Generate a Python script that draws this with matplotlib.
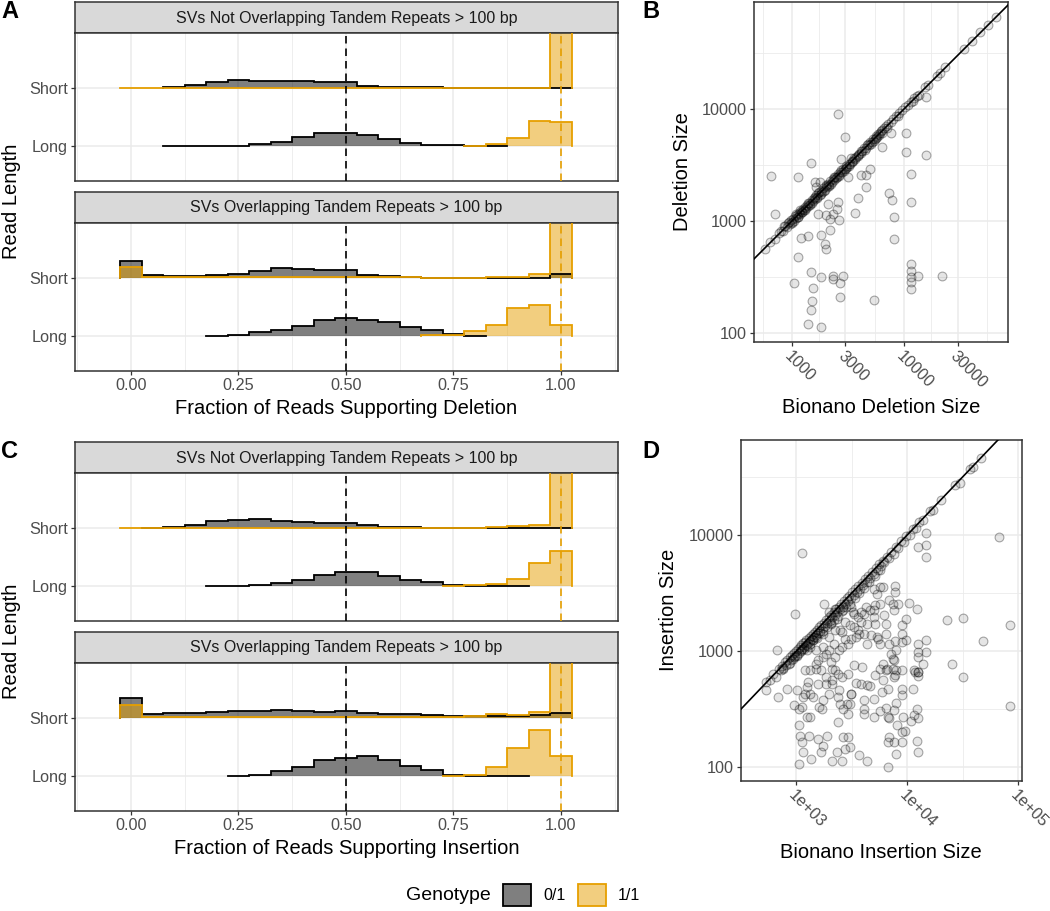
import numpy as np
import matplotlib
matplotlib.use('Agg')
import matplotlib.pyplot as plt
from matplotlib.patches import Patch
from matplotlib.ticker import NullFormatter

plt.rcParams['font.family'] = ['Liberation Sans', 'DejaVu Sans']

nan = np.nan

# histogram bins (fraction of reads), width 0.05
bin_mid = np.array([0.00, 0.05, 0.10, 0.15, 0.20, 0.25, 0.30, 0.35, 0.40, 0.45, 0.50,
                    0.55, 0.60, 0.65, 0.70, 0.75, 0.80, 0.85, 0.90, 0.95, 1.00])
rows = ['Long', 'Short']
facets = ['SVs Not Overlapping Tandem Repeats > 100 bp',
          'SVs Overlapping Tandem Repeats > 100 bp']
genotypes = ['0/1', '1/1']
geno_colors = ['#000000', '#E69F00']
ROW = 175.0  # ridge height that equals the distance between two rows

# ridge heights, deletions (panel A)
del_nontr_short_het = [nan, nan, 3, 10, 20, 25, 23, 21, 23, 20, 18, 8, 5, 3, 3, 2, 2, 2, 1, 0, 0]
del_nontr_short_hom = [0, 0, 0, 0, 0, 0, 1, 1, 1, 1, 1, 1, 1, 1, 1, 1, 2, 2, 2, 2, 420]
del_nontr_long_het = [nan, nan, 0, 0, 1, 1, 5, 13, 28, 38, 38, 33, 20, 10, 4, 2, 1, 1, nan, nan, nan]
del_nontr_long_hom = [nan] * 16 + [1, 6, 23, 76, 73]
del_tr_short_het = [53, 11, 8, 8, 10, 13, 21, 30, 28, 26, 25, 11, 6, 3, 2, 2, 1, 2, 1, 2, 12]
del_tr_short_hom = [35, 5, 3, 3, 3, 3, 3, 3, 3, 3, 3, 3, 3, 3, 2, 2, 2, 4, 3, 12, 420]
del_tr_long_het = [nan] * 4 + [0, 5, 12, 20, 30, 50, 56, 50, 42, 27, 20, 7, 0, nan, nan, nan, nan]
del_tr_long_hom = [nan] * 14 + [5, 5, 15, 35, 85, 95, 35]

# ridge heights, insertions (panel C)
ins_nontr_short_het = [nan, 2, 5, 10, 22, 26, 28, 23, 20, 16, 17, 10, 5, 3, 2, 1, 1, 0, 0, 1, 1]
ins_nontr_short_hom = [0, 1, 1, 1, 1, 1, 1, 1, 1, 1, 1, 1, 1, 1, 1, 2, 2, 3, 6, 10, 420]
ins_nontr_long_het = [nan] * 4 + [0, 1, 3, 8, 18, 32, 42, 42, 30, 17, 13, 3, 1, 1, 1, nan, nan]
ins_nontr_long_hom = [nan] * 15 + [0, 3, 7, 20, 70, 105]
ins_tr_short_het = [62, 14, 15, 17, 20, 22, 22, 26, 22, 19, 22, 17, 12, 12, 9, 7, 7, 7, 7, 10, 16]
ins_tr_short_hom = [40, 5, 4, 4, 4, 4, 4, 4, 4, 4, 4, 4, 4, 4, 4, 5, 6, 12, 10, 20, 420]
ins_tr_long_het = [nan] * 5 + [0, 3, 15, 28, 48, 55, 60, 50, 32, 20, 3, 1, 1, 1, nan, nan]
ins_tr_long_hom = [nan] * 15 + [2, 5, 28, 85, 139, 60]

# panel B: Bionano deletion size vs called deletion size
del_bionano = [
    646, 700, 1130, 1040, 1130, 1210, 1390, 1490, 1490, 1510,
    1540, 1490, 1390, 1830, 1830, 1830, 1985, 2030, 1590, 1650,
    1770, 2100, 2170, 1710, 2030, 2170, 2320, 2630, 2580, 2520,
    2670, 2670, 2320, 2320, 2850, 2580, 2950, 2710, 3630, 3880,
    4160, 4610, 4610, 5000, 5360, 6410, 7350, 7770, 8100, 8100,
    7710, 10500, 10500, 11480, 11480, 15600, 15600, 11600, 11600, 11480,
    11480, 11480, 13240, 21980, 3160, 3390,
    570, 640, 700, 760, 800, 830, 870, 900, 920, 950,
    980, 1000, 1020, 1040, 1060, 1080, 1100, 1120, 1150, 1170,
    1200, 1220, 1250, 1280, 1300, 1330, 1360, 1400, 1430, 1460,
    1500, 1530, 1560, 1600, 1640, 1680, 1720, 1760, 1800, 1850,
    1900, 1950, 2000, 2050, 2100, 2150, 2200, 2260, 2320, 2380,
    2440, 2500, 2560, 2630, 2700, 2780, 2860, 2940, 3020, 3100,
    3200, 3300, 3400, 3500, 3600, 3720, 3850, 3980, 4100, 4250,
    4400, 4550, 4700, 4850, 5000, 5150, 5300, 5450, 5600, 5750,
    5900, 6050, 6200, 6400, 6600, 6900, 7200, 7600, 8000, 8500,
    9000, 9600, 10200, 10800, 11500, 12300, 13000, 13600, 15500, 16500,
    19500, 21000, 23000, 34000, 40000, 48000, 56000, 66000,
    850, 940, 1010, 1090, 1130, 1190, 1240, 1310, 1380, 1450,
    1520, 1590, 1660, 1740, 1830, 1920, 2020, 2120, 2230, 2350,
    2470, 2600, 2740, 2890, 3050, 3250, 3450, 3650, 3900, 4150,
    4450, 4750, 5050, 5350, 5650, 5950, 6300, 7000, 8800, 12000,
]
del_called = [
    2510, 1160, 2480, 280, 476, 710, 730, 3260, 349, 192,
    253, 161, 119, 112, 316, 744, 627, 565, 2235, 2014,
    2235, 1430, 825, 1163, 1124, 1049, 1163, 1014, 1480, 1290,
    211, 279, 324, 305, 324, 9020, 5650, 3540, 1188, 1618,
    2564, 2564, 1991, 2884, 198, 4600, 1758, 1531, 1079, 695,
    6053, 6138, 4121, 2636, 1489, 3846, 12700, 415, 357, 315,
    284, 246, 324, 324, 2478, 3613,
    560, 650, 690, 780, 820, 810, 900, 880, 950, 930,
    1010, 980, 1050, 1000, 1100, 1060, 1130, 1090, 1180, 1150,
    1230, 1190, 1280, 1250, 1340, 1300, 1390, 1370, 1460, 1420,
    1540, 1500, 1600, 1560, 1690, 1640, 1760, 1720, 1850, 1800,
    1950, 1900, 2040, 2000, 2150, 2100, 2250, 2210, 2370, 2320,
    2490, 2450, 2610, 2580, 2750, 2720, 2900, 2880, 3080, 3040,
    3250, 3220, 3450, 3420, 3650, 3700, 3900, 3950, 4180, 4200,
    4480, 4500, 4800, 4750, 5100, 5050, 5400, 5380, 5700, 5650,
    6000, 6050, 6300, 6450, 6700, 7000, 7300, 7700, 8100, 8600,
    9100, 9700, 10300, 10800, 11600, 12400, 13100, 13300, 15700, 16300,
    19800, 20800, 23500, 34500, 40500, 48500, 56500, 66500,
    900, 980, 960, 1150, 1080, 1250, 1200, 1250, 1450, 1400,
    1450, 1650, 1600, 1800, 1750, 1850, 2100, 2050, 2150, 2450,
    2400, 2500, 2850, 2800, 2950, 3100, 3350, 3550, 3800, 4000,
    4300, 4900, 4900, 5200, 5500, 5800, 6100, 6800, 8600, 11700,
]

# panel D: Bionano insertion size vs called insertion size
ins_bionano = [
    1120, 968, 673, 681, 530, 820, 949, 1047, 1120, 1047,
    1069, 1120, 1047, 1157, 1236, 1321, 1303, 1365, 1560, 1664,
    1722, 1877, 2070, 2317, 2559, 2612, 2735, 2924, 3020, 3683,
    4345, 6683, 6760, 6683, 7620, 7880, 8880, 12110, 12530, 2365,
    2477, 2645, 2884, 3020, 3120, 2924, 4064, 4100, 4955, 4064,
    4955, 5660, 6380, 6683, 6760, 7620, 7880, 7980, 9000, 9490,
    9120, 11560, 12360, 10810, 12110, 1157, 1196, 1410, 1611, 1698,
    1722, 1337, 1560, 1837, 1963, 2395, 2070, 2365, 3080, 3443,
    3802, 4290, 4642, 5060, 5660, 5970, 5880, 6683, 7380, 7880,
    7800, 7620, 8880, 9000, 8880, 11560, 11300, 12360, 12530, 13840,
    25060, 32060, 84100, 67600, 84100, 47600, 32060, 23000, 14790, 14790,
    14790, 12530, 12110, 10250, 9620, 9000, 9000, 9750, 9000, 7800,
    7880, 7380, 7620, 6546, 6480, 6050, 6110, 6480, 7480, 7800,
    7800, 7620, 8150, 6760, 5660, 6050, 4955, 5300, 5660, 5060,
    4955, 4642, 4205, 4064, 3802, 3563, 3563, 3683, 4064, 3802,
    4345, 4955, 5100, 5300, 5480, 5660, 4700, 4345, 6480, 6870,
    7100, 14790, 14790, 12530, 12530, 12530, 12530, 11700, 3443, 3120,
    2924, 2559, 2395, 2243, 2028, 1837, 1722, 1560, 1507, 1507,
    1722, 1963, 2168, 2477, 2580, 2735, 3020, 3334, 3334, 3240,
    2317, 2028, 2243, 1963, 1722, 1507, 1410, 1321, 1236, 1196,
    1321, 1507, 1664, 1837, 2098, 2243, 2559, 2924, 3334, 3937,
    1277, 1013, 1236, 1778, 1963, 2243, 2630, 3120, 2735, 2098, 2365,
    530, 580, 620, 650, 690, 720, 740, 760, 790, 810,
    830, 850, 870, 890, 910, 930, 950, 970, 990, 1010,
    1030, 1050, 1070, 1090, 1110, 1130, 1150, 1170, 1190, 1210,
    1230, 1260, 1290, 1320, 1350, 1380, 1410, 1440, 1470, 1500,
    1530, 1560, 1600, 1640, 1680, 1720, 1760, 1800, 1850, 1900,
    1950, 2000, 2050, 2100, 2160, 2220, 2280, 2340, 2400, 2470,
    2540, 2610, 2680, 2760, 2840, 2920, 3000, 3100, 3200, 3300,
    3400, 3500, 3620, 3740, 3860, 4000, 4150, 4300, 4450, 4600,
    4800, 5000, 5200, 5400, 5600, 5800, 6000, 6200, 6500, 6800,
    7100, 7500, 7900, 8300, 8800, 9300, 9800, 10500, 11200, 12000,
    12800, 13800, 16000, 17000, 20000, 27000, 30000, 37000, 39000, 46000,
    760, 880, 960, 1020, 1100, 1180, 1250, 1330, 1420, 1520,
    1620, 1740, 1880, 2030, 2190, 2370, 2570, 2800, 3050, 3350,
    3700, 4100, 4550, 5100, 5700,
]
ins_called = [
    7000, 2070, 1014, 401, 464, 473, 340, 318, 329, 229,
    184, 164, 107, 135, 270, 270, 184, 118, 176, 135,
    151, 184, 113, 135, 114, 181, 144, 181, 149, 126,
    113, 101, 181, 164, 164, 130, 164, 167, 135, 244,
    351, 318, 351, 351, 428, 288, 318, 288, 388, 376,
    270, 304, 325, 270, 266, 308, 356, 229, 201, 206,
    270, 279, 266, 252, 318, 401, 428, 401, 329, 318,
    376, 428, 522, 522, 428, 458, 558, 638, 428, 530,
    522, 506, 497, 617, 705, 558, 443, 473, 705, 681,
    617, 597, 681, 473, 415, 681, 473, 660, 605, 778,
    767, 597, 333, 9620, 1688, 1212, 1923, 1837, 10400, 8150,
    6460, 7780, 2285, 2594, 1901, 1664, 1393, 1236, 1196, 1220,
    1027, 859, 842, 705, 690, 778, 2028, 1722, 2559, 3228,
    3607, 2243, 2523, 2735, 3563, 3563, 3443, 3120, 2559, 2477,
    2243, 2243, 2395, 2098, 2165, 1963, 1507, 1393, 1393, 1778,
    1722, 1963, 1722, 1321, 1280, 1157, 1365, 1157, 1393, 1157,
    949, 1236, 980, 1157, 980, 887, 660, 660, 1321, 1280,
    1157, 1083, 1014, 888, 804, 949, 888, 831, 778, 1014,
    1083, 1014, 1157, 1507, 1458, 1280, 1664, 1611, 2098, 2165,
    1901, 1722, 1507, 1321, 1393, 1321, 1236, 1083, 1014, 681,
    681, 705, 681, 597, 705, 681, 597, 638, 752, 728,
    541, 458, 489, 2559, 2165, 2317, 2243, 2395, 1778, 522, 401,
    540, 560, 640, 600, 700, 680, 750, 700, 800, 760,
    840, 780, 880, 830, 920, 860, 960, 900, 1000, 930,
    1040, 960, 1080, 1010, 1120, 1040, 1160, 1080, 1200, 1120,
    1240, 1160, 1300, 1220, 1340, 1280, 1400, 1320, 1460, 1380,
    1520, 1420, 1600, 1500, 1680, 1580, 1750, 1640, 1850, 1740,
    1950, 1820, 2050, 1950, 2160, 2050, 2280, 2150, 2400, 2280,
    2540, 2400, 2680, 2560, 2840, 2700, 3000, 2880, 3200, 3050,
    3400, 3250, 3620, 3450, 3860, 3700, 4150, 3950, 4450, 4250,
    4800, 4600, 5200, 5000, 5600, 5400, 6000, 5800, 6500, 6300,
    7100, 6900, 7900, 7700, 8800, 8600, 9800, 9900, 11200, 11500,
    12800, 13300, 16000, 16200, 20000, 27000, 28000, 37000, 38000, 46000,
    720, 790, 880, 900, 1000, 1050, 1100, 1150, 1250, 1300,
    1420, 1480, 1600, 1750, 1850, 2000, 2200, 2400, 2550, 2850,
    3150, 3500, 3900, 4400, 5000,
]

W, H = 1050, 911
GRID = '#EBEBEB'
EDGE = '#333333'
TICKC = '#4D4D4D'

fig = plt.figure(figsize=(W / 100, H / 100), dpi=100)


def px_axes(l, t, r, b):
    return fig.add_axes([l / W, 1 - b / H, (r - l) / W, (b - t) / H])


def frame(ax):
    for s in ax.spines.values():
        s.set_color(EDGE)
        s.set_linewidth(1.1)
    ax.tick_params(which='major', length=3, width=0.9, color=EDGE,
                   labelcolor=TICKC, labelsize=11.7, pad=2)
    ax.tick_params(which='minor', length=0)


def strip(box, label):
    ax = px_axes(*box)
    ax.set_facecolor('#D9D9D9')
    ax.set_xticks([])
    ax.set_yticks([])
    frame(ax)
    ax.text(0.5, 0.47, label, ha='center', va='center', fontsize=11.5,
            color='#1A1A1A', transform=ax.transAxes)


def draw_ridge(ax, base, heights, k):
    h = np.asarray(heights, float)
    ok = np.where(~np.isnan(h))[0]
    i0, i1 = ok[0], ok[-1]
    vals = h[i0:i1 + 1] / ROW
    edges = np.append(bin_mid[i0:i1 + 1] - 0.025, bin_mid[i1] + 0.025)
    ax.stairs(base + vals, edges, baseline=base, fill=True,
              color=geno_colors[k], alpha=0.5, lw=0, zorder=2)
    xs = np.concatenate([[edges[0]], np.repeat(edges, 2)[1:-1], [edges[-1]]])
    ys = np.concatenate([[0], np.repeat(vals, 2), [0]])
    ax.plot(xs, base + ys, color=geno_colors[k], lw=1.3, zorder=3,
            solid_joinstyle='miter')


def ridge_panel(l, t, r, b, title, short_het, short_hom, long_het, long_hom, show_x):
    strip((l, t, r, t + 31), title)
    ax = px_axes(l, t + 31, r, b)
    ax.set_xlim(-0.13, 1.133)
    ax.set_ylim(0.40, 2.96)
    ax.set_xticks([0, 0.25, 0.5, 0.75, 1.0], ['0.00', '0.25', '0.50', '0.75', '1.00'])
    ax.set_xticks([-0.125, 0.125, 0.375, 0.625, 0.875, 1.125], minor=True)
    ax.set_yticks([1, 2], rows)
    ax.grid(which='major', color=GRID, lw=1.1)
    ax.grid(which='minor', axis='x', color=GRID, lw=0.6)
    ax.set_axisbelow(True)
    frame(ax)
    for base, het, hom in [(2, short_het, short_hom), (1, long_het, long_hom)]:
        draw_ridge(ax, base, het, 0)
        draw_ridge(ax, base, hom, 1)
    ax.axvline(0.5, color='black', lw=1.2, ls=(0, (4.5, 3)), zorder=4)
    ax.axvline(1.0, color='#E69F00', lw=1.2, ls=(0, (4.5, 3)), zorder=4)
    if not show_x:
        ax.tick_params(axis='x', which='both', length=0, labelbottom=False)
    return ax


def scatter_panel(l, t, r, b, x, y, xlim, ylim, xt, xtl, xminor):
    ax = px_axes(l, t, r, b)
    ax.set_xscale('log')
    ax.set_yscale('log')
    ax.set_xlim(*xlim)
    ax.set_ylim(*ylim)
    ax.set_xticks(xt, xtl)
    ax.set_xticks(xminor, minor=True)
    ax.set_yticks([100, 1000, 10000], ['100', '1000', '10000'])
    ax.set_yticks([316.2, 3162, 31623], minor=True)
    ax.xaxis.set_minor_formatter(NullFormatter())
    ax.yaxis.set_minor_formatter(NullFormatter())
    ax.grid(which='major', color=GRID, lw=1.1)
    ax.grid(which='minor', color=GRID, lw=0.6)
    ax.set_axisbelow(True)
    frame(ax)
    for lab in ax.get_xticklabels():
        lab.set_rotation(-45)
        lab.set_ha('left')
        lab.set_va('top')
        lab.set_rotation_mode('anchor')
    ax.scatter(x, y, s=40, facecolor=(0, 0, 0, 0.1), edgecolor=(0, 0, 0, 0.33),
               lw=0.8, zorder=2)
    ax.axline((1000, 1000), (10000, 10000), color='black', lw=1.2, zorder=3)
    return ax


# panel A
ridge_panel(75, 2, 618, 180.5, facets[0], del_nontr_short_het, del_nontr_short_hom,
            del_nontr_long_het, del_nontr_long_hom, False)
ridge_panel(75, 191.5, 618, 371, facets[1], del_tr_short_het, del_tr_short_hom,
            del_tr_long_het, del_tr_long_hom, True)
# panel C
ridge_panel(75, 442, 618, 620.5, facets[0], ins_nontr_short_het, ins_nontr_short_hom,
            ins_nontr_long_het, ins_nontr_long_hom, False)
ridge_panel(75, 631.5, 618, 811, facets[1], ins_tr_short_het, ins_tr_short_hom,
            ins_tr_long_het, ins_tr_long_hom, True)

# panel B
scatter_panel(754, 2, 1008, 342, del_bionano, del_called, (458, 84500), (83, 90000),
              [1000, 3000, 10000, 30000], ['1000', '3000', '10000', '30000'],
              [548, 1732, 5477, 17321, 54772])
# panel D
scatter_panel(741, 440, 1022, 781, ins_bionano, ins_called, (407, 108000), (76, 65500),
              [1000, 10000, 100000], ['1e+03', '1e+04', '1e+05'],
              [316.2, 3162, 31623])


def ftext(x, y, s, **kw):
    fig.text(x / W, 1 - y / H, s, ha=kw.pop('ha', 'center'), va=kw.pop('va', 'center'), **kw)


ftext(12, 201, 'Read Length', rotation=90, fontsize=14.5)
ftext(12, 641, 'Read Length', rotation=90, fontsize=14.5)
ftext(346.5, 409, 'Fraction of Reads Supporting Deletion', fontsize=14.5)
ftext(346.5, 849, 'Fraction of Reads Supporting Insertion', fontsize=14.5)
ftext(682, 172, 'Deletion Size', rotation=90, fontsize=14.5)
ftext(881, 407, 'Bionano Deletion Size', fontsize=14.5)
ftext(668, 610, 'Insertion Size', rotation=90, fontsize=14.5)
ftext(881, 853, 'Bionano Insertion Size', fontsize=14.5)

for lab, x, y in [('A', 1, 12), ('B', 642, 12), ('C', 1, 452), ('D', 642, 452)]:
    ftext(x, y, lab, ha='left', fontsize=17, fontweight='bold')

# legend
ftext(448, 895, 'Genotype', fontsize=14)
handles = [Patch(facecolor=(0, 0, 0, 0.5), edgecolor='black', lw=1.3),
           Patch(facecolor=(0.902, 0.624, 0.0, 0.5), edgecolor='#E69F00', lw=1.3)]
fig.legend(handles, genotypes, loc='center left', bbox_to_anchor=(503 / W, 1 - 895 / H),
           ncol=2, frameon=False, fontsize=11.5, handlelength=1.75, handleheight=1.75,
           handletextpad=0.75, columnspacing=0.8, borderpad=0, borderaxespad=0)

fig.savefig('out.png', dpi=100)
